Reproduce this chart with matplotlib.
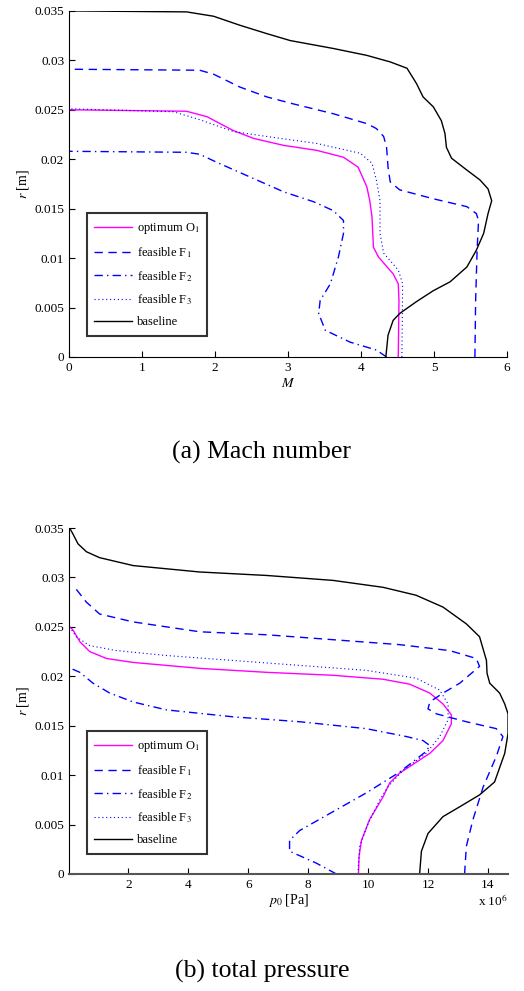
import matplotlib
matplotlib.use("Agg")
import matplotlib.pyplot as plt
from matplotlib.ticker import FormatStrFormatter

plt.rcParams['font.family'] = ['Liberation Serif', 'DejaVu Serif']
plt.rcParams['mathtext.fontset'] = 'stix'

# ---- (a) Mach number: M vs r ----
base_M = [4.34, 4.37, 4.44, 4.53, 4.76, 4.99, 5.22, 5.45, 5.58, 5.68, 5.74, 5.79, 5.74, 5.63, 5.45,
          5.24, 5.17, 5.15, 5.10, 4.99, 4.85, 4.76, 4.63, 4.40, 4.08, 3.62, 3.03, 2.71, 2.34, 1.98, 1.61, 0.0]
base_r = [0.0, 0.0022, 0.0037, 0.0044, 0.0056, 0.0067, 0.0076, 0.0091, 0.0108, 0.0125, 0.0145, 0.0158, 0.0170, 0.0179, 0.0189,
          0.0201, 0.0212, 0.0226, 0.0239, 0.0253, 0.0263, 0.02765, 0.0292, 0.02984, 0.0305, 0.0312, 0.0320, 0.0327, 0.03355, 0.03446, 0.0349, 0.035]

f1_M = [5.56, 5.57, 5.59, 5.61, 5.58, 5.45, 4.99, 4.53, 4.40, 4.37, 4.35, 4.31, 4.21, 4.08, 3.62, 3.07, 2.71, 2.34, 1.98, 1.79, 0.0]
f1_r = [0.0, 0.0057, 0.0108, 0.0138, 0.0145, 0.0152, 0.0160, 0.0169, 0.0177, 0.0192, 0.0212, 0.0223, 0.0231, 0.0236, 0.0246, 0.0256, 0.0263, 0.0273, 0.0286, 0.0290, 0.0291]

f2_M = [4.35, 4.21, 3.85, 3.51, 3.42, 3.44, 3.58, 3.69, 3.76, 3.76, 3.62, 3.35, 2.94, 2.48, 2.02, 1.79, 1.61, 0.0]
f2_r = [0.0, 0.0007, 0.0015, 0.0027, 0.0044, 0.0057, 0.0074, 0.0101, 0.0125, 0.0138, 0.0148, 0.0157, 0.0167, 0.0182, 0.0197, 0.0205, 0.0207, 0.0208]

o1_M = [4.51, 4.52, 4.51, 4.44, 4.24, 4.17, 4.15, 4.12, 4.08, 3.96, 3.76, 3.39, 2.94, 2.53, 2.25, 1.89, 1.61, 0.0]
o1_r = [0.0, 0.0057, 0.0074, 0.0084, 0.0101, 0.0111, 0.0142, 0.0158, 0.0172, 0.0192, 0.0202, 0.0209, 0.0214, 0.0221, 0.0229, 0.0243, 0.02485, 0.0250]

f3_M = [4.56, 4.57, 4.51, 4.31, 4.26, 4.26, 4.21, 4.15, 3.99, 3.39, 2.71, 2.25, 1.79, 1.43, 0.0]
f3_r = [0.0, 0.0074, 0.0088, 0.0105, 0.0125, 0.0158, 0.0179, 0.0196, 0.0206, 0.0216, 0.0223, 0.0228, 0.0240, 0.0248, 0.0251]

# ---- (b) total pressure: p0 [x 10^6 Pa] vs r ----
base_p = [11.72, 11.78, 12.0, 12.50, 13.06, 13.72, 14.22, 14.56, 14.67, 14.67, 14.56, 14.39, 14.06, 13.97, 13.95,
          13.72, 13.28, 12.5, 11.6, 10.5, 8.83, 6.61, 4.38, 2.16, 1.04, 0.60, 0.32, 0.15, 0.04]
base_pr = [0.0, 0.0023, 0.0041, 0.0058, 0.0068, 0.0080, 0.0093, 0.0122, 0.0142, 0.0162, 0.0172, 0.0183, 0.0193, 0.0203, 0.0216,
           0.0240, 0.0253, 0.0270, 0.0282, 0.0290, 0.0297, 0.0302, 0.03055, 0.0312, 0.0320, 0.0326, 0.0334, 0.0344, 0.035]

f1_p = [13.22, 13.28, 13.5, 13.84, 14.28, 14.5, 14.28, 13.28, 12.28, 12.0, 12.06, 12.50, 13.06, 13.72, 13.61,
        12.72, 11.05, 8.83, 6.61, 4.38, 2.16, 1.04, 0.60, 0.21]
f1_pr = [0.0, 0.0028, 0.0055, 0.0088, 0.0119, 0.0139, 0.0147, 0.0154, 0.0162, 0.0167, 0.0174, 0.0183, 0.0193, 0.0210, 0.0218,
         0.0226, 0.0232, 0.0237, 0.0242, 0.0245, 0.0255, 0.0263, 0.0275, 0.0290]

f2_p = [8.94, 8.27, 7.38, 7.38, 7.72, 8.83, 9.94, 11.05, 11.94, 12.06, 11.83, 11.28, 9.94, 7.72, 5.49, 3.27, 2.16, 1.38, 0.82, 0.38, 0.04]
f2_pr = [0.0, 0.0011, 0.0023, 0.0034, 0.0044, 0.0063, 0.0082, 0.0103, 0.0124, 0.0130, 0.0135, 0.0139, 0.0147, 0.0154, 0.0159, 0.0166, 0.0174, 0.0183, 0.0193, 0.0204, 0.02085]

o1_p = [9.68, 9.70, 9.78, 10.05, 10.50, 10.72, 11.05, 12.06, 12.50, 12.78, 12.78, 12.50, 12.06, 11.39, 10.50,
        8.83, 6.61, 4.38, 2.16, 1.27, 0.71, 0.38, 0.15, 0.04]
o1_pr = [0.0, 0.0018, 0.0034, 0.0055, 0.0078, 0.0092, 0.0102, 0.0122, 0.0135, 0.0152, 0.0161, 0.0172, 0.0183, 0.0192, 0.0197,
         0.0201, 0.0204, 0.0208, 0.0214, 0.0218, 0.0225, 0.0235, 0.0247, 0.0250]

f3_p = [9.66, 9.72, 10.0, 10.39, 10.66, 11.17, 11.94, 12.39, 12.67, 12.67, 12.39, 11.61, 9.94, 7.72, 5.49, 3.27, 1.6, 0.71, 0.26, 0.04]
f3_pr = [0.0, 0.0028, 0.0051, 0.0075, 0.0088, 0.0105, 0.0122, 0.0139, 0.0156, 0.0172, 0.0186, 0.0198, 0.0206, 0.0211, 0.0216, 0.0221, 0.0226, 0.0231, 0.0240, 0.0250]

labels = ['optimum O$_1$', 'feasible F$_1$', 'feasible F$_2$', 'feasible F$_3$', 'baseline']
yticks = [0, 0.005, 0.01, 0.015, 0.02, 0.025, 0.03, 0.035]

fig = plt.figure(figsize=(5.24, 9.91), dpi=100)
ax1 = fig.add_axes([0.1317, 0.6398, 0.8359, 0.3492])
ax2 = fig.add_axes([0.1317, 0.1181, 0.8378, 0.3491])


def draw(ax, series, leg_y):
    (o1x, o1y), (f1x, f1y), (f2x, f2y), (f3x, f3y), (bx, by) = series
    ax.plot(o1x, o1y, color='#ff00ff', lw=1.0, label=labels[0])
    ax.plot(f1x, f1y, color='#0000ff', lw=1.0, ls=(0, (6, 4)), label=labels[1])
    ax.plot(f2x, f2y, color='#0000ff', lw=1.0, ls=(0, (6, 3, 1, 3)), label=labels[2])
    ax.plot(f3x, f3y, color='#0000ff', lw=0.8, ls=(0, (1, 2.5)), label=labels[3])
    ax.plot(bx, by, color='black', lw=1.0, label=labels[4])
    ax.spines['top'].set_visible(False)
    ax.spines['right'].set_visible(False)
    ax.tick_params(direction='in', length=4, labelsize=9.5, top=False, right=False)
    ax.set_ylim(0, 0.035)
    ax.set_yticks(yticks)
    ax.yaxis.set_major_formatter(FormatStrFormatter('%g'))
    ax.set_ylabel('$r$ [m]', fontsize=10, labelpad=2)
    leg = ax.legend(loc='lower left', bbox_to_anchor=(0.04, leg_y), fontsize=9,
                    frameon=True, fancybox=False, handlelength=3.0, handletextpad=0.4,
                    labelspacing=0.72, borderpad=0.6, borderaxespad=0)
    leg.get_frame().set_edgecolor('black')
    leg.get_frame().set_linewidth(1.5)


draw(ax1, [(o1_M, o1_r), (f1_M, f1_r), (f2_M, f2_r), (f3_M, f3_r), (base_M, base_r)], 0.061)
ax1.set_xlim(0, 6)
ax1.set_xticks(range(0, 7))
ax1.set_xlabel('$M$', fontsize=10, labelpad=2)

draw(ax2, [(o1_p, o1_pr), (f1_p, f1_pr), (f2_p, f2_pr), (f3_p, f3_pr), (base_p, base_pr)], 0.058)
ax2.set_xlim(0.02, 14.67)
ax2.set_xticks([2, 4, 6, 8, 10, 12, 14])
ax2.set_xlabel(r'$p_{\mathit{0}}$ [Pa]', fontsize=10, labelpad=1)
ax2.spines['bottom'].set_color('#555555')
ax2.spines['bottom'].set_linewidth(1.5)
ax2.text(1.0, -0.078, 'x 10$^6$', transform=ax2.transAxes, ha='right', va='center', fontsize=9.5)

fig.text(0.5, 1 - 452 / 991, '(a) Mach number', ha='center', va='center', fontsize=18.5)
fig.text(0.5, 1 - 971 / 991, '(b) total pressure', ha='center', va='center', fontsize=18.5)

fig.savefig('out.png', dpi=100)
